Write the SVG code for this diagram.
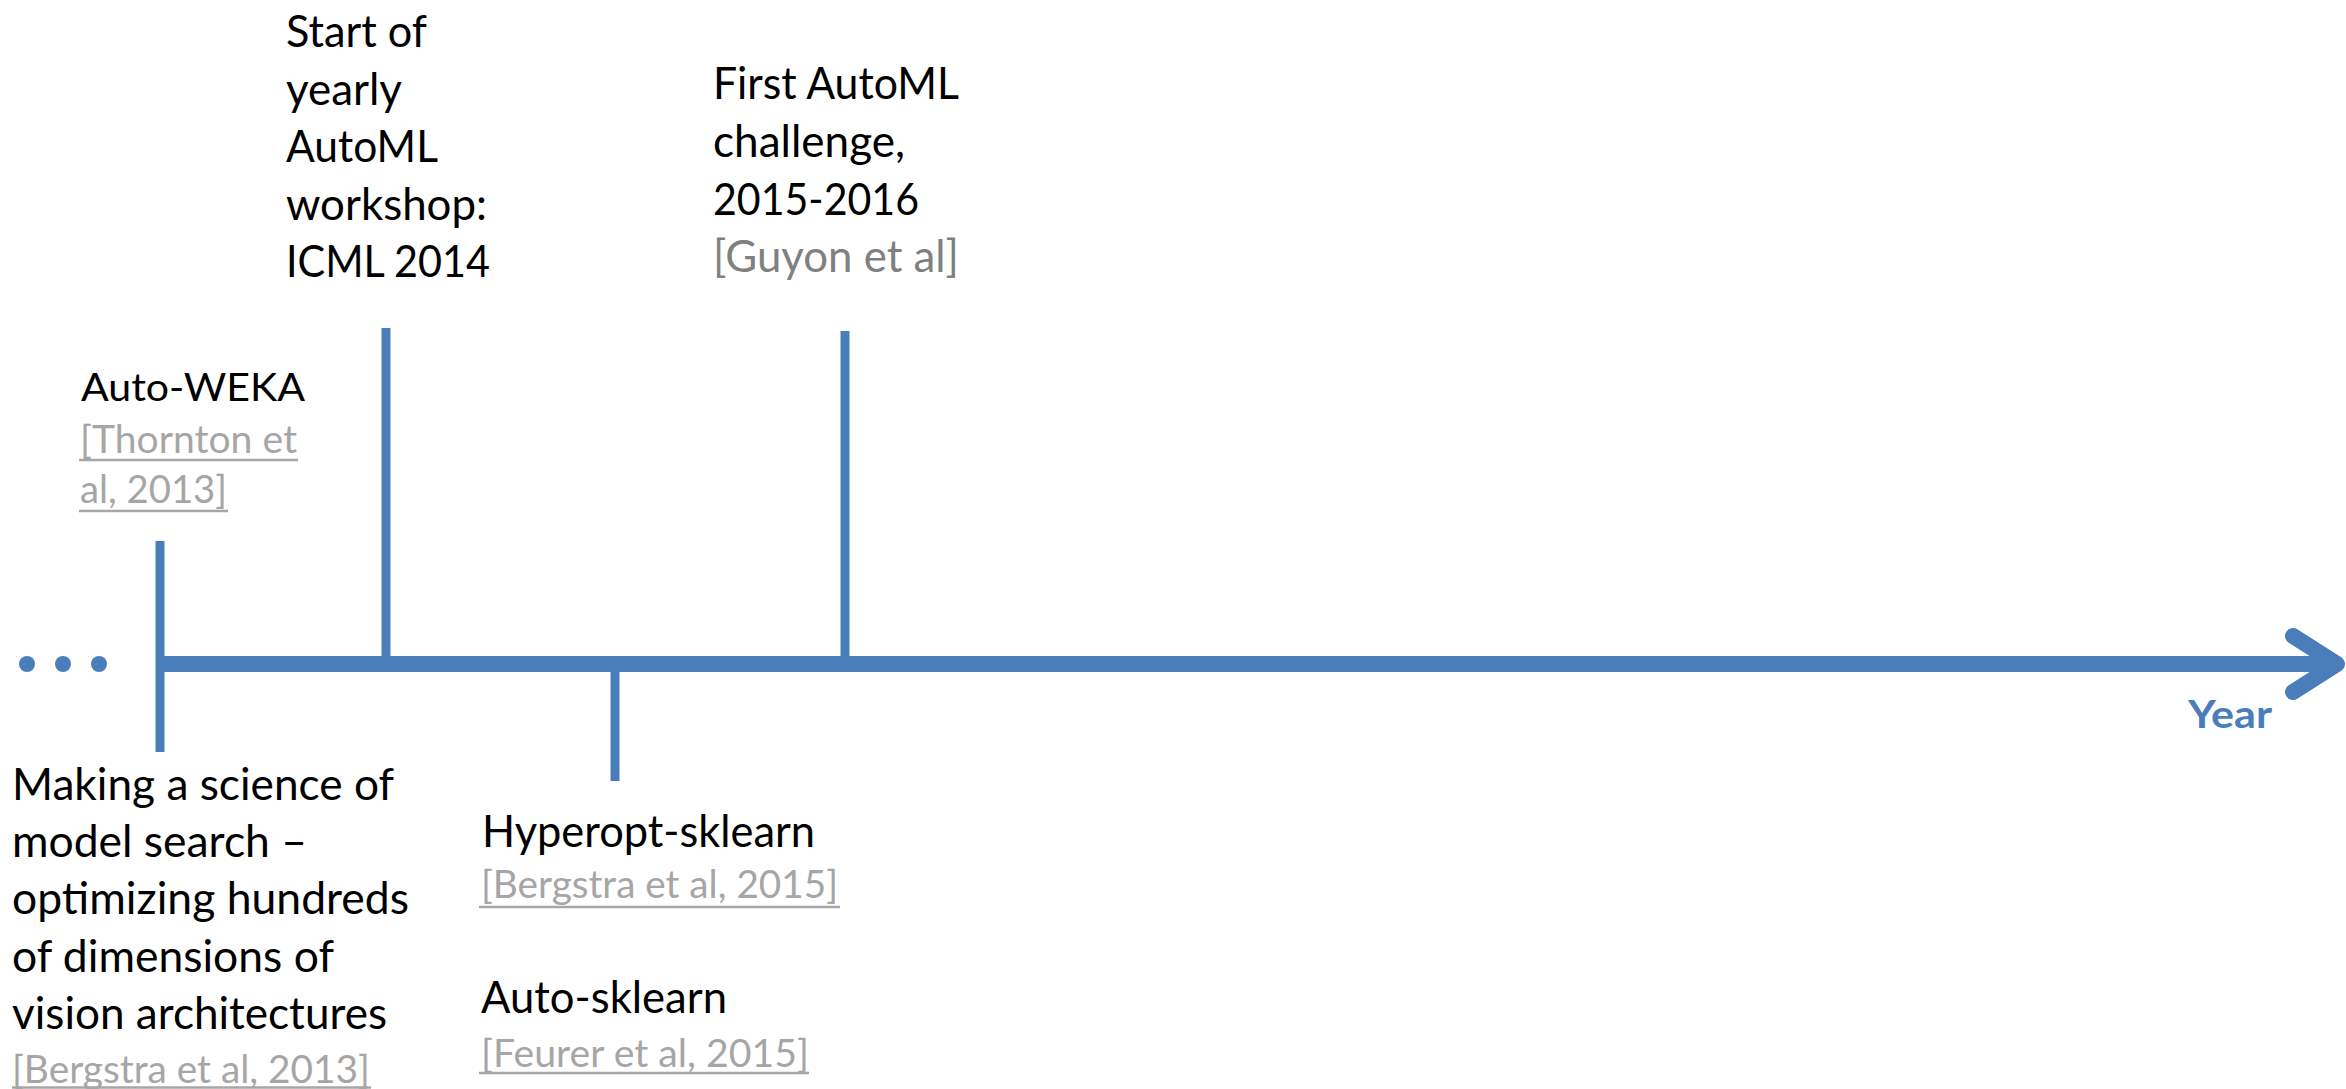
<svg xmlns="http://www.w3.org/2000/svg" width="2346" height="1089" viewBox="0 0 2346 1089">
<style>
  .t { font-family: Lato, "Open Sans", "Liberation Sans", sans-serif; fill: #000000; }
  .m { font-size: 44px; }
  .s { font-size: 39px; }
  .cite { fill: #A6A6A6; }
  .cite2 { fill: #808080; }
  .ul { stroke: #A6A6A6; stroke-width: 2.5; }
  .ln { stroke: #4A7EBB; fill: none; }
  .tick { stroke-width: 9; }
  .axis { stroke-width: 16; }
  .year { font-family: Lato, "Open Sans", "Liberation Sans", sans-serif; font-weight: bold; font-size: 39px; fill: #4A7EBB; }
</style>
<rect width="2346" height="1089" fill="#ffffff"/>
<g id="connectors">
  <line class="ln axis" x1="156" y1="664" x2="2336" y2="664"/>
  <polyline class="ln axis" points="2293,636 2337,664 2293,692" stroke-linecap="round" stroke-linejoin="round"/>
  <line class="ln tick" x1="160" y1="541" x2="160" y2="752"/>
  <line class="ln tick" x1="386" y1="328" x2="386" y2="664"/>
  <line class="ln tick" x1="845" y1="331" x2="845" y2="664"/>
  <line class="ln tick" x1="615" y1="664" x2="615" y2="781"/>
</g>
<g id="ellipsis" fill="#4A7EBB">
  <circle cx="27" cy="664" r="8"/>
  <circle cx="63" cy="664" r="8"/>
  <circle cx="99" cy="664" r="8"/>
</g>
<g id="node-workshop">
  <text class="t m" x="286" y="47" textLength="141" lengthAdjust="spacingAndGlyphs">Start of</text>
  <text class="t m" x="286" y="105" textLength="116" lengthAdjust="spacingAndGlyphs">yearly</text>
  <text class="t m" x="286" y="162" textLength="152" lengthAdjust="spacingAndGlyphs">AutoML</text>
  <text class="t m" x="286" y="220" textLength="201" lengthAdjust="spacingAndGlyphs">workshop:</text>
  <text class="t m" x="286" y="277" textLength="204" lengthAdjust="spacingAndGlyphs">ICML 2014</text>
</g>
<g id="node-challenge">
  <text class="t m" x="713" y="99" textLength="246" lengthAdjust="spacingAndGlyphs">First AutoML</text>
  <text class="t m" x="713" y="157" textLength="192" lengthAdjust="spacingAndGlyphs">challenge,</text>
  <text class="t m" x="713" y="215" textLength="206" lengthAdjust="spacingAndGlyphs">2015-2016</text>
  <text class="t m cite2" x="713" y="272" textLength="246" lengthAdjust="spacingAndGlyphs">[Guyon et al]</text>
</g>
<g id="node-autoweka">
  <text class="t s" x="81" y="401" textLength="224" lengthAdjust="spacingAndGlyphs">Auto-WEKA</text>
  <text class="t s cite" x="80" y="453" textLength="217" lengthAdjust="spacingAndGlyphs">[Thornton et</text>
  <line class="ul" x1="79" y1="460" x2="298" y2="460"/>
  <text class="t s cite" x="80" y="503" textLength="147" lengthAdjust="spacingAndGlyphs">al, 2013]</text>
  <line class="ul" x1="79" y1="511" x2="228" y2="511"/>
</g>
<g id="node-bergstra2013">
  <text class="t m" x="12" y="800" textLength="382" lengthAdjust="spacingAndGlyphs">Making a science of</text>
  <text class="t m" x="12" y="857" textLength="295" lengthAdjust="spacingAndGlyphs">model search –</text>
  <text class="t m" x="12" y="914" textLength="397" lengthAdjust="spacingAndGlyphs">optimizing hundreds</text>
  <text class="t m" x="12" y="972" textLength="322" lengthAdjust="spacingAndGlyphs">of dimensions of</text>
  <text class="t m" x="12" y="1029" textLength="375" lengthAdjust="spacingAndGlyphs">vision architectures</text>
  <text class="t s cite" x="12" y="1083" textLength="358" lengthAdjust="spacingAndGlyphs">[Bergstra et al, 2013]</text>
  <line class="ul" x1="12" y1="1087.5" x2="371" y2="1087.5"/>
</g>
<g id="node-hyperopt">
  <text class="t m" x="482" y="847" textLength="333" lengthAdjust="spacingAndGlyphs">Hyperopt-sklearn</text>
  <text class="t s cite" x="481" y="898" textLength="357" lengthAdjust="spacingAndGlyphs">[Bergstra et al, 2015]</text>
  <line class="ul" x1="479" y1="907" x2="840" y2="907"/>
</g>
<g id="node-autosklearn">
  <text class="t m" x="481" y="1013" textLength="246" lengthAdjust="spacingAndGlyphs">Auto-sklearn</text>
  <text class="t s cite" x="481" y="1067" textLength="328" lengthAdjust="spacingAndGlyphs">[Feurer et al, 2015]</text>
  <line class="ul" x1="479" y1="1073" x2="809" y2="1073"/>
</g>
<g id="label-year">
  <text class="year" x="2188" y="728" textLength="84" lengthAdjust="spacingAndGlyphs">Year</text>
</g>
</svg>
